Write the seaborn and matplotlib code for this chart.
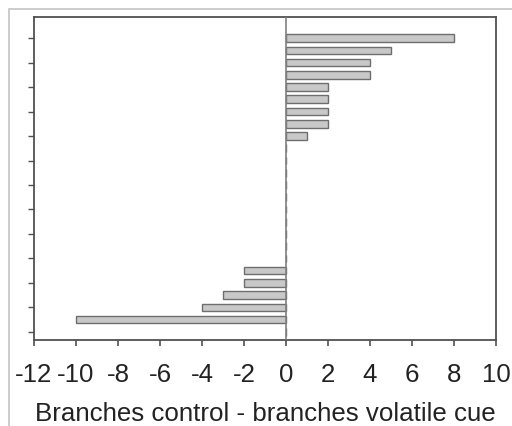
import matplotlib
matplotlib.use("Agg")
import matplotlib.pyplot as plt
from matplotlib.patches import Rectangle
import seaborn as sns
import pandas as pd

# difference per item, top to bottom
items = [f"item{i + 1}" for i in range(25)]
diffs = [8, 5, 4, 4, 2, 2, 2, 2, 1,
         0, 0, 0, 0, 0, 0, 0, 0, 0, 0,
         -2, -2, -3, -4, -10, 0]
x_ticks = [-12, -10, -8, -6, -4, -2, 0, 2, 4, 6, 8, 10]
x_label = "Branches control - branches volatile cue"

sns.set_theme(style="white")
plt.rcParams["font.family"] = ["Liberation Sans", "DejaVu Sans"]

df = pd.DataFrame({"item": items, "diff": diffs})

fig = plt.figure(figsize=(5.12, 4.27), dpi=100)
ax = fig.add_axes([34 / 512, 1 - 341 / 427, 462 / 512, 323 / 427])

sns.barplot(data=df, x="diff", y="item", orient="h", ax=ax,
            color="#c8c8c8", edgecolor="#6e6e6e", linewidth=1.0,
            width=0.62, saturation=1)

ax.axvline(0, color="#808080", linewidth=1.2, zorder=3)

ax.set_xlim(-12, 10)
ax.set_ylim(24.66, -1.72)
ax.set_xticks(x_ticks)
ax.set_xticklabels([str(t) for t in x_ticks])
ax.set_yticks(range(0, 25, 2))
ax.set_yticklabels([])
ax.set_ylabel("")
ax.set_xlabel(x_label, fontsize=18.6, color="#222222", labelpad=11)

ax.tick_params(axis="x", direction="out", length=4, width=1.2,
               colors="#505050", labelsize=18.6, labelcolor="#222222", pad=12,
               bottom=True)
ax.tick_params(axis="y", direction="out", length=4, width=1.0,
               colors="#505050", left=True)

for side in ["top", "right", "bottom", "left"]:
    ax.spines[side].set_visible(True)
    ax.spines[side].set_color("#505050")
    ax.spines[side].set_linewidth(1.3)

# light frame around the whole figure
fig.patches.append(Rectangle((9 / 512, -0.1), 1.2, 1 - 10 / 427 + 0.1,
                             transform=fig.transFigure, fill=False,
                             edgecolor="#c4c4c4", linewidth=1.2))

fig.savefig("out.png", dpi=100)
